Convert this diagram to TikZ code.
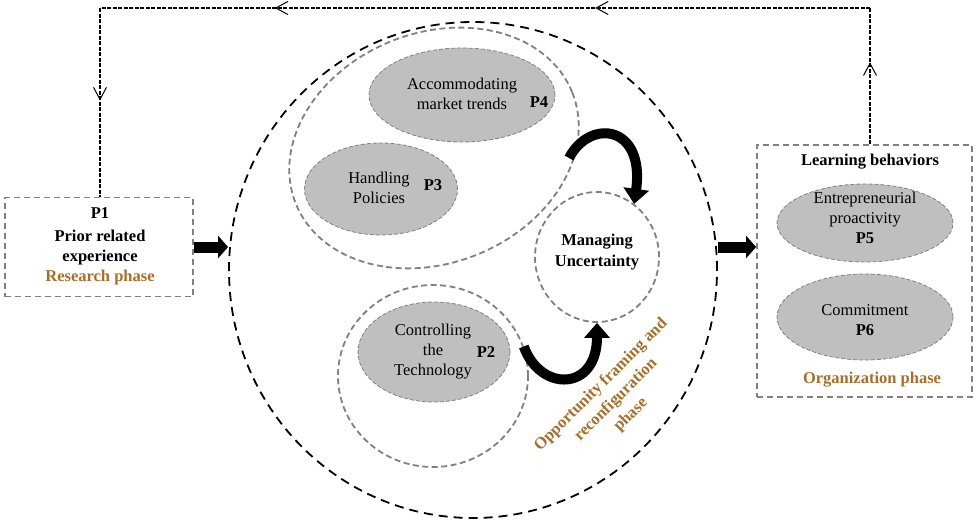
\documentclass[tikz,border=0pt]{standalone}
\usepackage{fontspec}
\setmainfont{Liberation Serif}
\usetikzlibrary{arrows.meta,shapes.geometric,decorations.markings}
\definecolor{brn}{RGB}{168,110,42}
\definecolor{gline}{RGB}{128,128,128}
\definecolor{gfill}{RGB}{191,191,191}
\begin{document}
\begin{tikzpicture}[x=1pt,y=-1pt,
 font=\fontsize{16.5}{20}\selectfont,
 gbox/.style={draw=gline, line width=1.8pt, dash pattern=on 6pt off 4pt, rectangle, inner sep=0pt},
 gring/.style={draw=gline, line width=1.8pt, dash pattern=on 6pt off 3.5pt, ellipse, inner sep=0pt},
 gell/.style={draw=gline, fill=gfill, line width=0.8pt, dash pattern=on 4pt off 2pt, ellipse, inner sep=0pt},
 bigc/.style={draw=black, line width=1.8pt, dash pattern=on 9pt off 6pt, ellipse, inner sep=0pt},
 txt/.style={align=center, inner sep=0pt},
 btxt/.style={align=center, inner sep=0pt, font=\fontsize{16.5}{20}\selectfont\bfseries},
 phase/.style={btxt, text=brn},
 fat/.style={line width=11pt, -{Triangle[length=10pt,width=22pt]}},
 curl/.style={line width=10pt, -{Triangle[length=15pt,width=25pt]}},
 fb/.style={line width=1.3pt, dash pattern=on 4pt off 1.5pt},
 barbtip/.tip={Straight Barb[length=12pt,width=13pt,line width=1pt]},
]
\useasboundingbox (0,0) rectangle (979,522);

% big dashed circle
\node[bigc, minimum width=488pt, minimum height=496pt] (big) at (473,270) {};

% inner groups
\node[gring, minimum width=298pt, minimum height=230pt, rotate=22] (grp) at (434,148) {};
\node[gring, minimum width=190pt, minimum height=182pt] (p2r) at (433,376) {};
\node[gring, minimum width=124pt, minimum height=130pt] (mu) at (597,257) {};

% grey ellipses
\node[gell, minimum width=186pt, minimum height=94pt] (e4) at (462,95) {};
\node[gell, minimum width=153pt, minimum height=92pt] (e3) at (381,189) {};
\node[gell, minimum width=152pt, minimum height=100pt] (e2) at (434,352) {};

\node[txt] (t4) at (462,94) {Accommodating\\market trends};
\node[btxt] (l4) at (539,102) {P4};
\node[txt] (t3) at (379,188) {Handling\\Policies};
\node[btxt] (l3) at (433,185) {P3};
\node[txt] (t2) at (433,352) {Controlling\\the\\Technology};
\node[btxt] (l2) at (486,352) {P2};
\node[btxt, font=\fontsize{16.5}{21}\selectfont\bfseries] (mut) at (597,252.5) {Managing\\Uncertainty};

% phase label
\node[phase, rotate=45, font=\fontsize{16.5}{21}\selectfont\bfseries] (ph) at (616,400) {Opportunity framing and\\reconfiguration\\phase};

% P1 box
\node[gbox, minimum width=188pt, minimum height=99pt] (p1) at (99,247) {};
\node[btxt] (p1l) at (100,213) {P1};
\node[btxt] (p1t) at (100,248) {Prior related\\experience};
\node[phase] (rp) at (100,278) {Research phase};

% right box
\node[gbox, minimum width=215pt, minimum height=252pt] (rb) at (864.5,271) {};
\node[btxt] (lb) at (870,162) {Learning behaviors};
\node[gell, minimum width=176pt, minimum height=78pt] (e5) at (865,223) {};
\node[gell, minimum width=176pt, minimum height=86pt] (e6) at (865,317) {};
\node[txt] (t5) at (865,218) {Entrepreneurial\\proactivity\\\textbf{P5}};
\node[txt] (t6) at (865,320) {Commitment\\\textbf{P6}};
\node[phase] (op) at (872,380) {Organization phase};

% thick arrows
\draw[fat] (p1.east) -- (p1.east -| big.west);
\draw[fat] (big.east |- p1.east) -- (rb.west |- p1.east);

% curled arrows
\coordinate (ct) at (569,158);
\draw[curl] (ct) .. controls (590,118) and (645,125) .. (mu.55);
\draw[curl] (p2r.18) .. controls (540,392) and (597,392) .. (mu.south);

% feedback loop
\coordinate (fr) at (870,8);
\coordinate (fl) at (100,8);
\draw[fb, postaction={decorate, decoration={markings,
   mark=at position 0.6 with {\arrow{barbtip}}}}] (rb.north -| fr) -- (fr);
\draw[fb, postaction={decorate, decoration={markings,
   mark=at position 0.357 with {\arrow{barbtip}},
   mark=at position 0.773 with {\arrow{barbtip}}}}] (fr) -- (fl);
\draw[fb, postaction={decorate, decoration={markings,
   mark=at position 0.49 with {\arrow{barbtip}}}}] (fl) -- (fl |- p1.north);
\end{tikzpicture}
\end{document}
